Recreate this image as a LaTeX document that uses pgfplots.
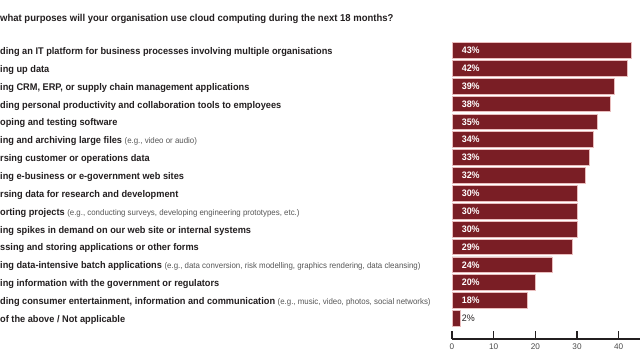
\documentclass[border=0pt]{standalone}
\usepackage{pgfplots}
\usepackage{pgfplotstable}
\pgfplotsset{compat=1.18}
\usepackage{fontspec}
\setmainfont{Liberation Sans}
\newfontfamily\labfam{Liberation Sans}[FakeStretch=0.95]
\definecolor{barred}{HTML}{7A1E25}
\definecolor{barpink}{HTML}{E9BDBD}
\definecolor{txt}{HTML}{231F20}
\definecolor{paren}{HTML}{555555}
\newcommand{\labfont}{\labfam\bfseries\fontsize{9.7bp}{11bp}\selectfont}
\newcommand{\paren}[1]{{\labfam\mdseries\fontsize{8.3bp}{10bp}\selectfont\color{paren}#1}}
\pgfplotstableread{
y v
0 2
1 18
2 20
3 24
4 29
5 30
6 30
7 30
8 32
9 33
10 34
11 35
12 38
13 39
14 42
15 43
}\datatable
\begin{document}
\begin{tikzpicture}
\path[use as bounding box] (0,0) rectangle (640bp,360bp);
\clip (0,0) rectangle (640bp,360bp);
\node[anchor=west, inner sep=0pt, text=txt, font=\labfam\bfseries\fontsize{10bp}{12bp}\selectfont] at (0bp,341.5bp)
  {what purposes will your organisation use cloud computing during the next 18 months?};
\begin{axis}[
  at={(452bp,21bp)}, anchor=south west,
  scale only axis, width=188bp, height=299.3bp,
  xmin=0, xmax=45.1, ymin=-1.15, ymax=15.6,
  axis x line=bottom, axis y line=left,
  x axis line style={-, line width=1.5bp, color=txt},
  y axis line style={draw=none},
  ytick style={draw=none},
  xtick={0,10,20,30,40},
  xtick style={line width=1.2bp, color=txt},
  tick align=inside,
  major tick length=8bp,
  /pgf/number format/assume math mode=true,
  xticklabel style={font=\fontsize{8.2bp}{9bp}\selectfont, text=black!70, yshift=-1bp},
  ytick={0,...,15},
  yticklabel style={anchor=west, xshift=-452bp, yshift=-1.5bp, inner sep=0pt, font=\labfont, text=txt},
  yticklabels={
    {of the above / Not applicable},
    {ding consumer entertainment, information and communication \paren{(e.g., music, video, photos, social networks)}},
    {ing information with the government or regulators},
    {ing data-intensive batch applications \paren{(e.g., data conversion, risk modelling, graphics rendering, data cleansing)}},
    {ssing and storing applications or other forms},
    {ing spikes in demand on our web site or internal systems},
    {orting projects \paren{(e.g., conducting surveys, developing engineering prototypes, etc.)}},
    {rsing data for research and development},
    {ing e-business or e-government web sites},
    {rsing customer or operations data},
    {ing and archiving large files \paren{(e.g., video or audio)}},
    {oping and testing software},
    {ding personal productivity and collaboration tools to employees},
    {ing CRM, ERP, or supply chain management applications},
    {ing up data},
    {ding an IT platform for business processes involving multiple organisations}
  },
]
\addplot[xbar, bar width=0.88, fill=barred, draw=barpink, line width=0.8bp] table[x=v, y=y] {\datatable};
\addplot[draw=none, mark=none, skip coords between index={0}{1},
  point meta=explicit,
  nodes near coords={\pgfmathprintnumber{\pgfplotspointmeta}\%},
  nodes near coords style={anchor=west, inner sep=0pt, text=white, font=\labfam\bfseries\fontsize{9.4bp}{10bp}\selectfont}]
  table[x expr=2.3, y=y, meta=v] {\datatable};
\addplot[draw=none, mark=none,
  point meta=explicit,
  nodes near coords={\pgfmathprintnumber{\pgfplotspointmeta}\%},
  nodes near coords style={anchor=west, inner sep=0pt, text=txt, font=\labfam\fontsize{9.4bp}{10bp}\selectfont}]
  coordinates {(2.3,0) [2]};
\end{axis}
\end{tikzpicture}
\end{document}
